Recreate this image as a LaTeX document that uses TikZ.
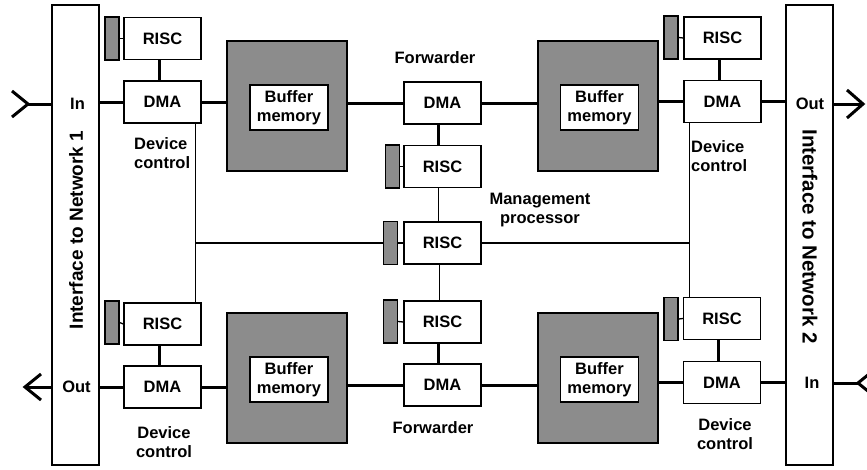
\documentclass[tikz,border=0pt]{standalone}
\usepackage{fontspec}
\setmainfont{Liberation Sans}
\usetikzlibrary{calc}
\definecolor{bufgray}{RGB}{140,140,140}
\begin{document}
\begin{tikzpicture}[x=1pt,y=-1pt,
  lbl/.style={font=\fontsize{16.5}{19}\selectfont\bfseries, inner sep=0pt, align=center},
  unit/.style={lbl, draw, line width=1.3pt, fill=white, minimum width=77pt, minimum height=42pt},
  tab/.style={draw, line width=1.3pt, fill=bufgray, minimum width=14pt, minimum height=43pt, inner sep=0pt},
  buf/.style={draw, line width=1.3pt, fill=bufgray, minimum width=120pt, minimum height=130pt, inner sep=0pt},
  mem/.style={lbl, draw, line width=1.3pt, fill=white, minimum width=78pt, minimum height=45pt},
  iface/.style={draw, line width=1.3pt, minimum width=47pt, minimum height=460pt, inner sep=0pt},
  bus/.style={line width=3pt},
  wire/.style={line width=1.3pt},
  chev/.style={line width=3pt, line cap=butt, line join=miter},
]
\clip (0,0) rectangle (867,469);

% interfaces
\node[iface] (ifL) at (75.5,235) {};
\node[iface] (ifR) at (809.5,235) {};
\node[lbl, rotate=90, font=\fontsize{19}{22}\selectfont\bfseries] (ifLt) at (76,230) {Interface to Network 1};
\node[lbl, rotate=-90, font=\fontsize{20.5}{22}\selectfont\bfseries] (ifRt) at (810,236.5) {Interface to Network 2};
\node[lbl] (inL) at (77.5,104) {In};
\node[lbl] (outL) at (76.5,387) {Out};
\node[lbl] (outR) at (810,104) {Out};
\node[lbl] (inR) at (812,383) {In};

% top left
\node[unit] (riscTL) at (162.5,38.5) {RISC};
\node[tab] (tabTL) at (112,38.5) {};
\node[unit] (dmaTL) at (162.5,102) {DMA};
\node[buf] (bufTL) at (287,106) {};
\node[mem] (memTL) at (289,107.5) {Buffer\\memory};
\node[lbl, align=left, anchor=west] (devTL) at (134,153.5) {Device\\control};

% forwarder top
\node[unit] (dmaFT) at (442.5,103) {DMA};
\node[unit] (riscFT) at (442.5,166.5) {RISC};
\node[tab] (tabFT) at (392.5,166.5) {};
\node[lbl] (fwdT) at (435,58) {Forwarder};

% top right
\node[buf] (bufTR) at (598,106) {};
\node[mem] (memTR) at (599.5,107.5) {Buffer\\memory};
\node[unit] (riscTR) at (722.5,38) {RISC};
\node[tab] (tabTR) at (671,37.5) {};
\node[unit] (dmaTR) at (722.5,101.5) {DMA};
\node[lbl, align=left, anchor=west] (devTR) at (691,156) {Device\\control};

% management
\node[unit] (riscM) at (442.5,243) {RISC};
\node[tab] (tabM) at (390.5,243) {};
\node[lbl] (mgmt) at (540,210) {Management\\processor};

% forwarder bottom
\node[unit] (riscFB) at (442.5,322) {RISC};
\node[tab] (tabFB) at (390.5,321.5) {};
\node[unit] (dmaFB) at (442.5,385) {DMA};
\node[lbl] (fwdB) at (433,428) {Forwarder};

% bottom left
\node[unit] (riscBL) at (162.5,324) {RISC};
\node[tab] (tabBL) at (112,322.5) {};
\node[unit] (dmaBL) at (162.5,387) {DMA};
\node[buf] (bufBL) at (287,378) {};
\node[mem] (memBL) at (289,379.5) {Buffer\\memory};
\node[lbl] (devBL) at (164,442) {Device\\control};

% bottom right
\node[buf] (bufBR) at (598,378) {};
\node[mem] (memBR) at (599.5,379.5) {Buffer\\memory};
\node[unit] (riscBR) at (722,318.5) {RISC};
\node[tab] (tabBR) at (671,319) {};
\node[unit] (dmaBR) at (722,382.5) {DMA};
\node[lbl] (devBR) at (725,434.5) {Device\\control};

% thick data paths, top
\draw[bus] (ifL.east |- dmaTL.west) -- (dmaTL.west);
\draw[bus] (dmaTL.east) -- (dmaTL.east -| bufTL.west);
\draw[bus] (bufTL.east |- dmaFT.west) -- (dmaFT.west);
\draw[bus] (dmaFT.east) -- (dmaFT.east -| bufTR.west);
\draw[bus] (bufTR.east |- dmaTR.west) -- (dmaTR.west);
\draw[bus] (dmaTR.east) -- (dmaTR.east -| ifR.west);
% thick data paths, bottom
\draw[bus] (ifL.east |- dmaBL.west) -- (dmaBL.west);
\draw[bus] (dmaBL.east) -- (dmaBL.east -| bufBL.west);
\draw[bus] (bufBL.east |- dmaFB.west) -- (dmaFB.west);
\draw[bus] (dmaFB.east) -- (dmaFB.east -| bufBR.west);
\draw[bus] (bufBR.east |- dmaBR.west) -- (dmaBR.west);
\draw[bus] (dmaBR.east) -- (dmaBR.east -| ifR.west);

% RISC-DMA links
\draw[bus] ([xshift=-3.5pt]riscTL.south) -- ([xshift=-3.5pt]dmaTL.north);
\draw[bus] ([xshift=-4pt]dmaFT.south) -- ([xshift=-4pt]riscFT.north);
\draw[bus] ([xshift=-3.5pt]riscTR.south) -- ([xshift=-3.5pt]dmaTR.north);
\draw[bus] ([xshift=-3.5pt]riscBL.south) -- ([xshift=-3.5pt]dmaBL.north);
\draw[bus] ([xshift=-4pt]riscFB.south) -- ([xshift=-4pt]dmaFB.north);
\draw[bus] ([xshift=-3.5pt]riscBR.south) -- ([xshift=-3.5pt]dmaBR.north);

% tabs
\draw[wire] (tabTL.east) -- (riscTL.west);
\draw[wire] (tabFT.east) -- (riscFT.west);
\draw[wire] (tabTR.east) -- (riscTR.west);
\draw[wire] (tabM.east) -- (riscM.west);
\draw[wire] (tabFB.east) -- (riscFB.west);
\draw[wire] (tabBL.east) -- (riscBL.west);
\draw[wire] (tabBR.east) -- (riscBR.west);

% management links
\draw[wire] ([xshift=-4pt]riscFT.south) -- ([xshift=-4pt]riscM.north);
\draw[wire] ([xshift=-3pt]riscM.south) -- ([xshift=-3pt]riscFB.north);
\coordinate (vl) at ($(dmaTL.south east)+(-6,0)$);
\coordinate (vr) at ($(dmaTR.south west)+(6,0)$);
\draw[wire] (vl) -- (vl |- riscBL.north);
\draw[wire] (vl |- tabM.west) -- (tabM.west);
\draw[wire] (vr) -- (vr |- riscBR.north);
\draw[wire] (riscM.east) -- (riscM.east -| vr);

% network arrows
\coordinate (aTL) at (28,104);
\coordinate (aTR) at (863,104);
\coordinate (aBL) at (25,387);
\coordinate (aBR) at (858,383);
\draw[bus] (aTL) -- (ifL.west |- aTL);
\draw[chev] ($(aTL)+(-16,-13)$) -- (aTL) -- ($(aTL)+(-16,13)$);
\draw[bus] (ifR.east |- aTR) -- (aTR);
\draw[chev] ($(aTR)+(-16,-14)$) -- (aTR) -- ($(aTR)+(-16,14)$);
\draw[bus] (ifL.west |- aBL) -- (aBL);
\draw[chev] ($(aBL)+(16,-13)$) -- (aBL) -- ($(aBL)+(16,13)$);
\draw[bus] (ifR.east |- aBR) -- (aBR);
\draw[chev] ($(aBR)+(16,-13)$) -- (aBR) -- ($(aBR)+(16,13)$);
\end{tikzpicture}
\end{document}
